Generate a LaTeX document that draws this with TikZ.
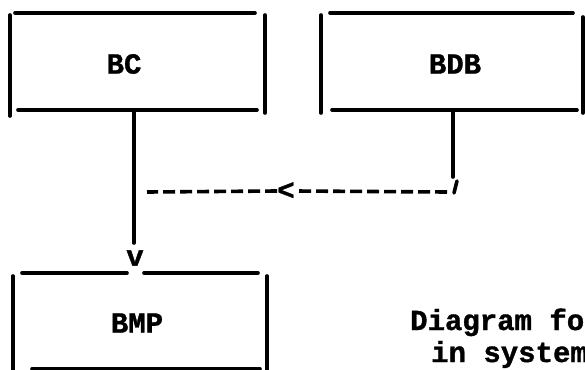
\documentclass[tikz,border=0pt]{standalone}
\usepackage{fontspec}
\setmainfont{Liberation Mono}[BoldFeatures={FakeBold=1.2}]
\begin{document}
\begin{tikzpicture}[x=1pt,y=-1pt,
  side/.style={line width=3.6pt,line cap=round},
  typed/.style={font=\fontsize{29}{32}\selectfont\bfseries,inner sep=0pt},
  dashline/.style={line width=3.6pt,dash pattern=on 12pt off 5pt}]
\useasboundingbox (0,0) rectangle (585,369);
\clip (0,0) rectangle (585,369);
% box BC
\node[typed] (BC) at (124,64) {BC};
\draw[side] (15,13) -- (255,13);
\draw[side] (18,110) -- (257,110);
\draw[side] (10,15) -- (10,116);
\draw[side] (265,15) -- (265,113);
% box BDB
\node[typed] (BDB) at (455,64) {BDB};
\draw[side] (330,13) -- (573,13);
\draw[side] (332,110) -- (577,110);
\draw[side] (321,15) -- (321,113);
\draw[side] (583,17) -- (583,113);
% box BMP
\node[typed] (BMP) at (137,323) {BMP};
\draw[side] (22,273) -- (127,273);
\draw[side] (144,273) -- (258,273);
\draw[side] (13,276) -- (13,372);
\draw[side] (267,276) -- (267,372);
\draw[side] (32,369) -- (260,369);
% connector BC -> BMP
\coordinate (bcout) at (134,112);
\coordinate (bcend) at (134,243);
\node[typed] (vhead) at (135,258) {v};
\draw[side] (bcout) -- (bcend);
% connector BDB -> dashed line
\coordinate (bdbout) at (453,112);
\coordinate (bdbend) at (453,177);
\draw[side] (bdbout) -- (bdbend);
\coordinate (tickA) at (457,181);
\coordinate (tickB) at (454,193);
\draw[line width=3.6pt,line cap=round] (tickA) -- (tickB);
\coordinate (dashR) at (447,192);
\coordinate (dashL) at (147,192);
\node[typed] (lt) at (286,191) {<};
\draw[dashline] (dashR) -- (lt.east);
\draw[dashline] (lt.west) -- (dashL);
% caption
\node[typed,anchor=base west] (cap1) at (410,330) {Diagram for};
\node[typed,anchor=base west] (cap2) at (431,362) {in system};
\end{tikzpicture}
\end{document}
